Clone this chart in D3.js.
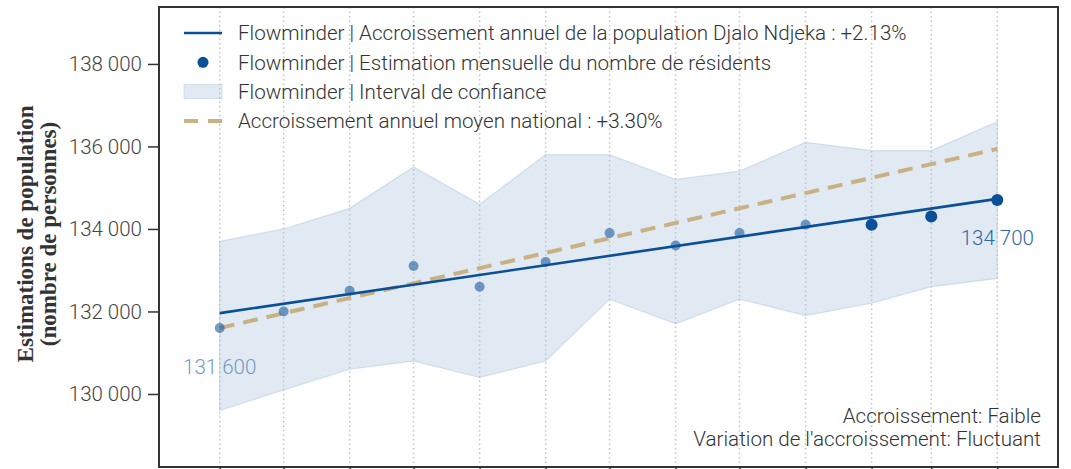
<!DOCTYPE html>
<html>
<head>
<meta charset="utf-8">
<script src="https://cdn.jsdelivr.net/npm/d3@7"></script>
<style>
  body { margin: 0; background: #fff; }
  text { font-family: Roboto, "Open Sans", sans-serif; }
</style>
</head>
<body>
<div id="chart"></div>
<script>
// monthly estimates (first day of each month)
var months = ["2022-04-01", "2022-05-01", "2022-06-01", "2022-07-01", "2022-08-01", "2022-09-01",
    "2022-10-01", "2022-11-01", "2022-12-01", "2023-01-01", "2023-02-01", "2023-03-01", "2023-04-01"];
var residents = [131600, 132000, 132500, 133100, 132600, 133200, 133900, 133600, 133900, 134100, 134100, 134300, 134700];
var ciUpper = [133700, 134000, 134500, 135500, 134600, 135800, 135800, 135200, 135400, 136100, 135900, 135900, 136600];
var ciLower = [129600, 130100, 130600, 130800, 130400, 130800, 132300, 131700, 132300, 131900, 132200, 132600, 132800];
// trend lines, value at first and last month
var trendLocal = [131960, 134730];
var trendNational = [131600, 135940];
var yTicks = [130000, 132000, 134000, 136000, 138000];
var legendLabels = [
  "Flowminder | Accroissement annuel de la population Djalo Ndjeka : +2.13%",
  "Flowminder | Estimation mensuelle du nombre de résidents",
  "Flowminder | Interval de confiance",
  "Accroissement annuel moyen national : +3.30%"
];
var notes = ["Accroissement: Faible", "Variation de l'accroissement: Fluctuant"];

var W = 1071, H = 469,
    margin = {left: 159, top: 7, right: 13},
    width = W - margin.left - margin.right,
    height = 460;

var blue = "#0b4f97",
    tan = "#c8b184",
    band = "#a9c3dd";

var fr = d3.formatLocale({decimal: ",", thousands: " ", grouping: [3], currency: ["", " €"]});
var fmt = fr.format(",d");

var parse = d3.timeParse("%Y-%m-%d");
var data = months.map(function(m, i) {
  return {date: parse(m), value: residents[i], hi: ciUpper[i], lo: ciLower[i]};
});

var first = data[0].date, last = data[data.length - 1].date;
var pad = 28.5 * 864e5;
var x = d3.scaleTime()
    .domain([new Date(+first - pad), new Date(+last + pad)])
    .range([0, width]);
var y = d3.scaleLinear()
    .domain([128230, 139380])
    .range([height, 0]);

var svg = d3.select("#chart").append("svg")
    .attr("width", W)
    .attr("height", H);

var g = svg.append("g")
    .attr("transform", "translate(" + margin.left + "," + margin.top + ")");

// vertical dotted grid
g.selectAll(".grid")
    .data(data)
    .enter().append("line")
    .attr("class", "grid")
    .attr("x1", function(d) { return x(d.date); })
    .attr("x2", function(d) { return x(d.date); })
    .attr("y1", 0)
    .attr("y2", height)
    .attr("stroke", "#c4c4c4")
    .attr("stroke-width", 1.5)
    .attr("stroke-dasharray", "1.5,3");

// confidence band
var area = d3.area()
    .x(function(d) { return x(d.date); })
    .y0(function(d) { return y(d.lo); })
    .y1(function(d) { return y(d.hi); });

g.append("path")
    .datum(data)
    .attr("d", area)
    .attr("fill", band)
    .attr("fill-opacity", 0.35)
    .attr("stroke", band)
    .attr("stroke-opacity", 0.45)
    .attr("stroke-width", 1.2);

var line = d3.line()
    .x(function(d) { return x(d[0]); })
    .y(function(d) { return y(d[1]); });

// national trend (dashed)
g.append("path")
    .attr("d", line([[first, trendNational[0]], [last, trendNational[1]]]))
    .attr("fill", "none")
    .attr("stroke", tan)
    .attr("stroke-width", 4)
    .attr("stroke-dasharray", "15,9");

// local trend
g.append("path")
    .attr("d", line([[first, trendLocal[0]], [last, trendLocal[1]]]))
    .attr("fill", "none")
    .attr("stroke", blue)
    .attr("stroke-width", 2.6);

// monthly points, the last three are solid
var n = data.length;
g.selectAll(".pt")
    .data(data)
    .enter().append("circle")
    .attr("class", "pt")
    .attr("cx", function(d) { return x(d.date); })
    .attr("cy", function(d) { return y(d.value); })
    .attr("r", function(d, i) { return i >= n - 3 ? 6 : 5; })
    .attr("fill", blue)
    .attr("fill-opacity", function(d, i) { return i >= n - 3 ? 1 : 0.55; });

// first / last value labels
g.append("text")
    .attr("x", x(first))
    .attr("y", y(residents[0]) + 46)
    .attr("text-anchor", "middle")
    .attr("font-size", 20.5)
    .attr("font-weight", 300)
    .attr("fill", "#6f9bc6")
    .text(fmt(residents[0]));

g.append("text")
    .attr("x", x(last))
    .attr("y", y(residents[n - 1]) + 45)
    .attr("text-anchor", "middle")
    .attr("font-size", 20.5)
    .attr("font-weight", 300)
    .attr("fill", "#2d69a6")
    .text(fmt(residents[n - 1]));

// y axis
var yAxis = g.append("g")
    .call(d3.axisLeft(y).tickValues(yTicks).tickSize(11).tickPadding(6).tickFormat(fmt));
yAxis.select(".domain").remove();
yAxis.selectAll(".tick line").attr("stroke", "#333").attr("stroke-width", 1.5);
yAxis.selectAll(".tick text")
    .attr("font-size", 20.5)
    .attr("font-weight", 300)
    .attr("fill", "#444")
    .style("font-family", "Roboto, sans-serif");

// x axis ticks only (labels fall outside the view)
var xAxis = g.append("g")
    .attr("transform", "translate(0," + height + ")")
    .call(d3.axisBottom(x).tickValues(data.map(function(d) { return d.date; })).tickSize(6).tickFormat(""));
xAxis.select(".domain").remove();
xAxis.selectAll(".tick line").attr("stroke", "#333").attr("stroke-width", 1.5);

// frame
g.append("rect")
    .attr("width", width)
    .attr("height", height)
    .attr("fill", "none")
    .attr("stroke", "#333")
    .attr("stroke-width", 2);

// y title
var title = svg.append("text")
    .attr("transform", "translate(0,234) rotate(-90)")
    .attr("text-anchor", "middle")
    .attr("font-size", 23)
    .attr("font-weight", 600)
    .attr("fill", "#333")
    .style("font-family", "'Liberation Serif', 'DejaVu Serif', serif");
title.append("tspan").attr("x", 0).attr("y", 33).text("Estimations de population");
title.append("tspan").attr("x", 0).attr("y", 56).text("(nombre de personnes)");

// legend
var legend = svg.append("g").attr("transform", "translate(184,33)");
var rowH = 29.3;
legend.append("line")
    .attr("x1", 0).attr("x2", 38).attr("y1", 0).attr("y2", 0)
    .attr("stroke", blue).attr("stroke-width", 2.6);
legend.append("circle")
    .attr("cx", 19).attr("cy", rowH).attr("r", 5.5)
    .attr("fill", blue);
legend.append("rect")
    .attr("x", 0).attr("y", 2 * rowH - 7).attr("width", 38).attr("height", 14)
    .attr("fill", band).attr("fill-opacity", 0.35)
    .attr("stroke", band).attr("stroke-opacity", 0.45);
legend.append("line")
    .attr("x1", 0).attr("x2", 38).attr("y1", 3 * rowH).attr("y2", 3 * rowH)
    .attr("stroke", tan).attr("stroke-width", 4).attr("stroke-dasharray", "14,10");
legend.selectAll(".lt")
    .data(legendLabels)
    .enter().append("text")
    .attr("class", "lt")
    .attr("x", 54)
    .attr("y", function(d, i) { return i * rowH; })
    .attr("dy", "0.35em")
    .attr("font-size", 20.6)
    .attr("font-weight", 300)
    .attr("fill", "#333")
    .text(function(d) { return d; });

// notes bottom right
svg.selectAll(".note")
    .data(notes)
    .enter().append("text")
    .attr("class", "note")
    .attr("x", 1041)
    .attr("y", function(d, i) { return 423 + i * 23; })
    .attr("text-anchor", "end")
    .attr("font-size", 20.6)
    .attr("font-weight", 300)
    .attr("fill", "#333")
    .text(function(d) { return d; });
</script>
</body>
</html>
